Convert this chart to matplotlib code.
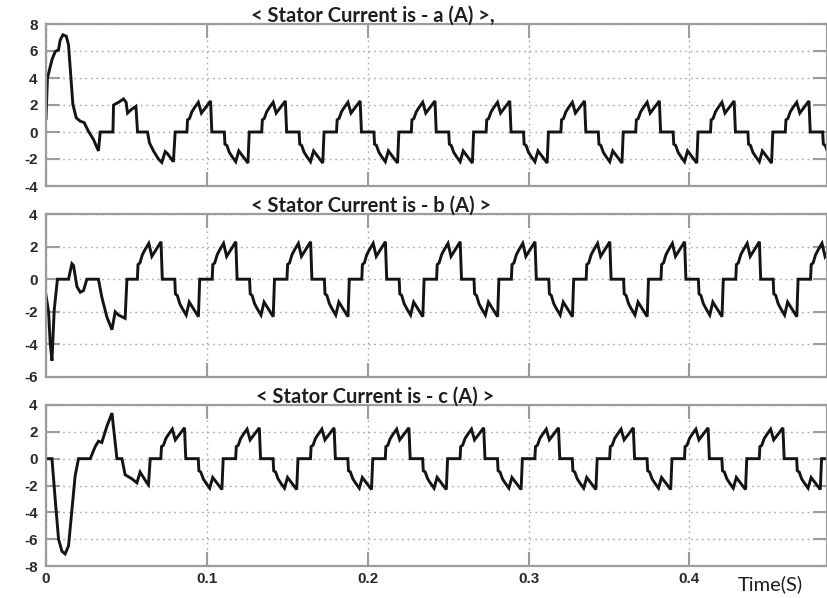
import matplotlib
matplotlib.use('Agg')
import matplotlib.pyplot as plt

plt.rcParams['font.family'] = 'Liberation Sans'
plt.rcParams['axes.unicode_minus'] = False

# one steady-state cycle: offset (s) from the rising step, current (A)
cycle_dt = [0.0, 0.0004, 0.0016, 0.0031, 0.0047, 0.0071, 0.0090, 0.0147, 0.0155,
            0.02325, 0.02365, 0.02485, 0.02635, 0.02795, 0.03035, 0.03225, 0.03795, 0.03875]
cycle_val = [0.0, 0.9, 1.0, 1.5, 1.8, 2.2, 1.4, 2.3, 0.0,
             0.0, -0.9, -1.0, -1.5, -1.8, -2.2, -1.4, -2.3, 0.0]

# times of the rising steps of the steady cycles in each phase
starts_a = [0.0876, 0.1341, 0.1806, 0.2271, 0.2736, 0.3201, 0.3666, 0.4131, 0.4596]
starts_b = [0.0568, 0.1033, 0.1498, 0.1963, 0.2428, 0.2893, 0.3358, 0.3823, 0.4288, 0.4753]
starts_c = [0.0714, 0.1179, 0.1644, 0.2109, 0.2574, 0.3039, 0.3504, 0.3969, 0.4434, 0.4899]

# start-up transients
t0_a = [0.0, 0.0009, 0.0037, 0.0057, 0.0078, 0.0088, 0.0105, 0.0126, 0.0140, 0.0155,
        0.0167, 0.0188, 0.0213, 0.0237, 0.0264, 0.0295, 0.0326, 0.0337, 0.0416, 0.0420,
        0.0451, 0.0482, 0.0498, 0.0507, 0.0534, 0.0559, 0.0569, 0.0631, 0.0643, 0.0668,
        0.0699, 0.0720, 0.0741, 0.0755, 0.0792, 0.0803]
i0_a = [1.0, 4.0, 5.35, 5.95, 6.1, 6.8, 7.2, 7.1, 6.45, 4.0,
        2.05, 1.05, 0.8, 0.7, 0.05, -0.55, -1.4, 0.0, 0.0, 2.0,
        2.2, 2.45, 2.2, 1.4, 1.7, 1.9, 0.0, 0.0, -0.8, -1.4,
        -2.0, -2.25, -1.45, -1.6, -2.2, 0.0]

t0_b = [0.0, 0.0016, 0.0026, 0.0037, 0.0051, 0.0071, 0.0140, 0.0161, 0.0171, 0.0192,
        0.0213, 0.0233, 0.0254, 0.0326, 0.0347, 0.0378, 0.0410, 0.0430, 0.0451, 0.0492,
        0.0503]
i0_b = [-1.0, -2.0, -3.9, -5.0, -1.9, 0.0, 0.0, 0.95, 0.85, -0.45,
        -0.8, -0.7, 0.0, 0.0, -1.1, -2.3, -3.1, -2.0, -2.2, -2.4,
        0.0]

t0_c = [0.0, 0.0037, 0.0057, 0.0078, 0.0099, 0.0119, 0.0140, 0.0161, 0.0181, 0.0202,
        0.0275, 0.0306, 0.0326, 0.0347, 0.0378, 0.0410, 0.0441, 0.0472, 0.0492, 0.0534,
        0.0565, 0.0585, 0.0627, 0.0637, 0.0648]
i0_c = [0.0, 0.0, -3.0, -6.0, -6.9, -7.1, -6.5, -3.8, -1.3, 0.0,
        0.0, 0.9, 1.3, 1.2, 2.4, 3.4, 0.0, 0.0, -1.2, -1.5,
        -1.8, -1.0, -1.8, -1.95, 0.0]

titles = ['< Stator Current is - a (A) >,', '< Stator Current is - b (A) >',
          '< Stator Current is - c (A) >']
ylims = [(-4, 8), (-6, 4), (-8, 4)]
xticks = [0, 0.1, 0.2, 0.3, 0.4]
xticklabels = ['0', '0.1', '0.2', '0.3', '0.4']


def build(t0, i0, starts):
    t = list(t0)
    y = list(i0)
    for s in starts:
        t += [s + d for d in cycle_dt]
        y += cycle_val
    return t, y


series = [build(t0_a, i0_a, starts_a), build(t0_b, i0_b, starts_b),
          build(t0_c, i0_c, starts_c)]

W, H = 828, 598
fig = plt.figure(figsize=(W / 100, H / 100), dpi=100)
rects = [(24, 186), (214, 377), (405, 566)]
left_px, right_px = 46, 827
title_x = [0.419, 0.416, 0.422]

grey = '#9c9c9c'
for k, ((top, bot), (t, y)) in enumerate(zip(rects, series)):
    ax = fig.add_axes([left_px / W, 1 - bot / H, (right_px - left_px) / W, (bot - top) / H])
    ax.plot(t, y, color='#141414', lw=2.1, solid_joinstyle='miter')
    ax.set_xlim(0, (right_px - 45.8) / 1609)
    ax.set_ylim(*ylims[k])
    ax.set_yticks(range(ylims[k][0], ylims[k][1] + 1, 2))
    ax.set_xticks(xticks)
    ax.grid(True, color='#a8a8a8', lw=1.0, linestyle=(0, (1.2, 2.8)))
    for sp in ax.spines.values():
        sp.set_color(grey)
        sp.set_linewidth(1.6)
    ax.tick_params(direction='in', length=10, width=1.5, color=grey,
                   top=True, right=True, labelsize=11, labelcolor='#2a2a2a')
    ax.tick_params(axis='y', pad=6)
    ax.tick_params(axis='x', pad=4)
    if k < 2:
        ax.set_xticklabels([])
    else:
        ax.set_xticklabels(xticklabels)
    for lab in ax.get_xticklabels() + ax.get_yticklabels():
        lab.set_fontweight('bold')
    ax.annotate(titles[k], xy=(title_x[k], 1.0), xycoords='axes fraction',
                xytext=(0, 2), textcoords='offset pixels', ha='center', va='baseline',
                fontsize=14.5, fontweight='bold', family='Lato', color='#1e1e1e')

fig.text(770 / W, 1 - 584 / H, 'Time(S)', ha='center', va='center',
         fontsize=14.5, family='Lato', color='#1e1e1e')

fig.savefig('out.png', dpi=100)
